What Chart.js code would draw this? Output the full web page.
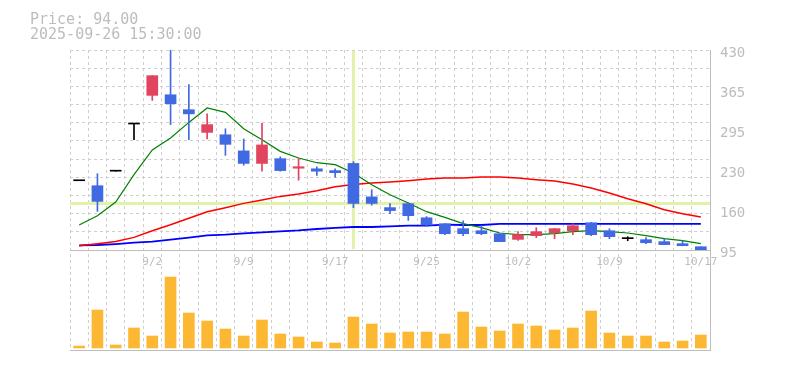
<!DOCTYPE html>
<html lang="ja">
<head>
  <meta charset="UTF-8">
  <title>Price</title>
  <style>
    body { margin: 0; background: #fff; }
  </style>
  <script src="https://cdn.jsdelivr.net/npm/chart.js"></script>
</head>
<body>
  <canvas id="chart" width="785" height="370"></canvas>
  <script>
    // trading days shown on the x axis
    const dates = ['8/27', '8/28', '8/29', '9/1', '9/2', '9/3', '9/4', '9/5', '9/8', '9/9',
      '9/10', '9/11', '9/12', '9/16', '9/17', '9/18', '9/19', '9/22', '9/24', '9/25',
      '9/26', '9/29', '9/30', '10/1', '10/2', '10/3', '10/6', '10/7', '10/8', '10/9',
      '10/10', '10/14', '10/15', '10/16', '10/17'];
    const shownDates = ['9/2', '9/9', '9/17', '9/25', '10/2', '10/9', '10/17'];

    const open  = [211, 202.7, 227, 306, 354, 355, 330, 292, 288, 261, 240, 248, 232, 231, 228, 240, 184, 166, 172.6, 149,
      139, 130.7, 127.3, 122.3, 112.8, 119, 124, 127.3, 140.7, 127.3, 114, 112.3, 109, 105.6, 100.5];
    const high  = [211, 222.8, 227, 306, 387, 430, 372, 323, 298, 281, 307, 251, 249, 234.5, 231, 243, 196, 172.6, 173.7, 151,
      139, 144, 136, 122.3, 125.7, 132.4, 131.2, 139, 141, 130.7, 117.3, 115.6, 114, 110.6, 100.5];
    const low   = [211, 159.7, 227, 280, 345.6, 305, 280, 281, 253.5, 237, 227, 227, 212, 220, 217, 166, 170, 156, 144.6, 134.5,
      120.6, 119, 120.6, 109, 111, 115.6, 113.9, 120.6, 119, 114, 110.6, 105.6, 104, 102.2, 94];
    const close = [211, 176.4, 227, 306, 387, 340, 323, 305, 272, 240, 271, 228, 234.5, 227, 224.5, 173, 173, 161, 152.5, 137,
      122.3, 122.3, 122.3, 109, 120.6, 125.7, 130.7, 135.7, 120.6, 117.3, 114, 107.2, 104, 102.2, 94];

    const ma5  = [136.9, 152.5, 175.4, 221.1, 262.5, 282.6, 308.7, 332.9, 325.5, 298.2, 279.8, 260.2, 249.1, 241.2, 237.9,
      224, 204.4, 187.6, 173.7, 159.2, 149.6, 139.1, 132.4, 123.5, 120.6, 120.6, 122.3, 125.7, 127.3, 125.7,
      123.5, 119, 113.9, 110.6, 105.6];
    const ma25 = [102.2, 105.6, 109.4, 116.1, 127.3, 137.4, 148.3, 159.2, 165.9, 173.1, 178.8, 184.8, 188.8, 194.3, 201,
      204.9, 207.2, 208.9, 211.1, 213.9, 215.6, 215.6, 217.3, 217.3, 215.6, 212.8, 210.6, 205.6, 198.9, 190.5,
      180.9, 172.6, 162.5, 155.8, 150.3];
    const ma75 = [102.7, 103.4, 105, 107.2, 108.9, 112.3, 115.6, 119.5, 120.6, 122.8, 124.5, 126.2, 127.8, 130.2, 131.9,
      133.5, 133.5, 134.5, 135.7, 135.7, 137.4, 136.9, 136.9, 138.6, 138.6, 138.6, 138.6, 138.6, 138.6, 138.6,
      138.6, 138.6, 138.6, 138.6, 138.6];

    const volume = [20, 380, 30, 200, 120, 710, 350, 270, 190, 120, 280, 140, 110, 60, 50, 310, 240, 150, 160, 160,
      140, 360, 210, 170, 240, 220, 180, 200, 370, 150, 120, 120, 60, 70, 130];

    const priceTicks = [95, 162, 229, 296, 363, 430];
    const priceTickLabels = ['95', '160', '230', '295', '365', '430'];

    const infoLines = ['Price: 94.00', '2025-09-26 15:30:00'];
    const crossDate = '9/18';
    const crossPrice = 173;

    const PRICE_MIN = 95, PRICE_MAX = 430;
    const VOL_MIN = -20, VOL_MAX = 980;
    const UP = '#e0445f', DOWN = '#4169e1', FLAT = '#000000';
    const GRID = '#cfcfcf', EDGE = '#bdbdbd', TEXT = '#bdbdbd';

    Chart.defaults.font.family = "'DejaVu Sans Mono', monospace";

    const candleColor = open.map((o, i) => close[i] > o ? UP : (close[i] < o ? DOWN : FLAT));

    // crosshair under the candles
    const crosshair = {
      id: 'crosshair',
      beforeDatasetsDraw(chart) {
        const { ctx, chartArea, scales } = chart;
        const cx = scales.x.getPixelForValue(dates.indexOf(crossDate));
        const cy = scales.y.getPixelForValue(crossPrice);
        ctx.save();
        ctx.strokeStyle = '#e1f3a8';
        ctx.lineWidth = 3;
        ctx.beginPath();
        ctx.moveTo(chartArea.left, cy);
        ctx.lineTo(chartArea.right, cy);
        ctx.moveTo(cx, scales.y.top + 1);
        ctx.lineTo(cx, scales.y.bottom - 1);
        ctx.stroke();
        ctx.restore();
      }
    };

    new Chart(document.getElementById('chart'), {
      type: 'bar',
      data: {
        labels: dates,
        datasets: [
          { type: 'bar', label: 'body', data: open.map((o, i) => [o, close[i]]), backgroundColor: candleColor,
            barThickness: 11, minBarLength: 1, grouped: false, yAxisID: 'y', order: 1 },
          { type: 'bar', label: 'wick', data: low.map((l, i) => [l, high[i]]), backgroundColor: candleColor,
            barThickness: 1, grouped: false, yAxisID: 'y', order: 2 },
          { type: 'line', label: 'MA5', data: ma5, borderColor: '#008000', borderWidth: 1.2,
            pointRadius: 0, tension: 0, yAxisID: 'y', order: 3 },
          { type: 'line', label: 'MA25', data: ma25, borderColor: '#ff0000', borderWidth: 1.5,
            pointRadius: 0, tension: 0, yAxisID: 'y', order: 4 },
          { type: 'line', label: 'MA75', data: ma75, borderColor: '#0000ff', borderWidth: 1.8,
            pointRadius: 0, tension: 0, yAxisID: 'y', order: 5 },
          { type: 'bar', label: 'Volume', data: volume, backgroundColor: '#fdb833',
            barThickness: 11, grouped: false, yAxisID: 'yv', order: 6 }
        ]
      },
      options: {
        responsive: false,
        animation: false,
        layout: { padding: { left: 30, right: 0, top: 0, bottom: 20 } },
        plugins: {
          legend: { display: false },
          tooltip: { enabled: false },
          title: {
            display: true, align: 'start', text: infoLines, color: TEXT,
            font: { size: 15, weight: 'normal', lineHeight: 1 },
            padding: { top: 13, bottom: 7 }
          }
        },
        scales: {
          x: {
            type: 'category', position: { yv: VOL_MAX }, offset: true,
            grid: { offset: true, color: GRID, drawTicks: false },
            border: { dash: [3, 3], color: EDGE },
            ticks: {
              autoSkip: false, maxRotation: 0, padding: 6, color: TEXT, font: { size: 11 },
              callback: (v, i) => shownDates.includes(dates[i]) ? dates[i] : ''
            }
          },
          x2: {
            type: 'category', position: 'bottom',
            grid: { display: false }, ticks: { display: false },
            border: { color: EDGE },
            afterFit: s => { s.height = 0; }
          },
          y: {
            type: 'linear', position: 'right', stack: 'panes', stackWeight: 2,
            min: PRICE_MIN, max: PRICE_MAX,
            ticks: { display: false, count: 12, maxTicksLimit: 20 },
            grid: { color: GRID, drawTicks: false },
            border: { dash: [3, 3], color: EDGE },
            afterFit: s => { s.width = 0; }
          },
          yv: {
            type: 'linear', position: 'right', stack: 'panes', stackWeight: 1,
            min: VOL_MIN, max: VOL_MAX,
            ticks: { display: false },
            grid: { display: false },
            border: { color: EDGE },
            afterFit: s => { s.width = 0; }
          },
          yl: {
            type: 'linear', position: 'right', weight: 1,
            min: PRICE_MIN - (PRICE_MAX - PRICE_MIN) / 2, max: PRICE_MAX,
            grid: { display: false, drawTicks: false },
            border: { display: false },
            afterBuildTicks: s => { s.ticks = priceTicks.map(v => ({ value: v })); },
            ticks: {
              padding: 10, labelOffset: 3, color: TEXT, font: { size: 14 },
              callback: (v, i) => priceTickLabels[i]
            },
            afterFit: s => { s.width = 75; }
          },
          ypad: {
            type: 'linear', position: 'left',
            grid: { display: false }, border: { display: false }, ticks: { display: false },
            afterFit: s => { s.width = 40; }
          }
        }
      },
      plugins: [crosshair]
    });
  </script>
</body>
</html>
